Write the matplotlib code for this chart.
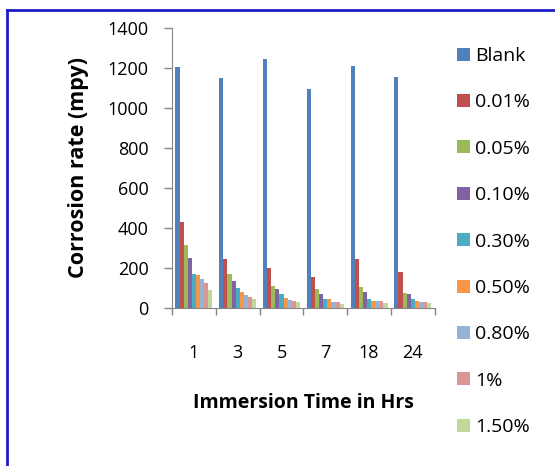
import numpy as np
import matplotlib
matplotlib.use("Agg")
import matplotlib.pyplot as plt
from matplotlib.lines import Line2D

plt.rcParams['font.family'] = ['Open Sans', 'DejaVu Sans']

# immersion times (hrs) and inhibitor concentrations
hours = ['1', '3', '5', '7', '18', '24']
series = ['Blank', '0.01%', '0.05%', '0.10%', '0.30%', '0.50%', '0.80%', '1%', '1.50%']

# corrosion rate (mpy), one list per concentration
blank  = [1205, 1148, 1243, 1095, 1212, 1155]
c0_01  = [428, 245, 202, 157, 245, 178]
c0_05  = [313, 170, 112, 93, 105, 77]
c0_10  = [252, 137, 97, 68, 80, 68]
c0_30  = [170, 98, 68, 43, 43, 43]
c0_50  = [164, 80, 52, 43, 37, 37]
c0_80  = [145, 65, 40, 30, 35, 30]
c1_00  = [123, 55, 35, 30, 33, 30]
c1_50  = [88, 43, 30, 22, 23, 27]

values = [blank, c0_01, c0_05, c0_10, c0_30, c0_50, c0_80, c1_00, c1_50]
colors = ['#4F81BD', '#C0504D', '#9BBB59', '#8064A2', '#4BACC6',
          '#F79646', '#95B3D7', '#D99694', '#C3D69B']

fig = plt.figure(figsize=(5.55, 4.66), dpi=100)
ax = fig.add_axes([172/555, 1-308/466, (434.7-172)/555, (308-28)/466])

n = len(series)
bw = 0.845 / n
x = np.arange(len(hours))
for i in range(n):
    ax.bar(x - 0.845/2 + bw*(i+0.5), values[i], width=bw, color=colors[i],
           label=series[i], linewidth=0)

ax.set_xlim(-0.5, len(hours) - 0.5)
ax.set_ylim(0, 1400)
ax.set_yticks(range(0, 1401, 200))

# category boundaries get the tick marks, labels sit in between
ax.set_xticks(x)
ax.set_xticklabels(hours)
ax.set_xticks(np.arange(-0.5, len(hours)), minor=True)
ax.tick_params(axis='x', which='major', length=0, pad=26, labelsize=13)
ax.tick_params(axis='x', which='minor', length=5, color='#868686', width=1)
ax.tick_params(axis='y', length=6, color='#868686', width=1, pad=11, labelsize=13)

for s in ['top', 'right']:
    ax.spines[s].set_visible(False)
for s in ['left', 'bottom']:
    ax.spines[s].set_color('#868686')

ax.set_ylabel('Corrosion rate (mpy)', fontsize=15.5, fontweight='bold', labelpad=13)
ax.set_xlabel('Immersion Time in Hrs', fontsize=14, fontweight='bold', labelpad=22)

fig.legend(loc='upper left', bbox_to_anchor=(457/555, 1-47/466), frameon=False,
           fontsize=14, labelspacing=1.46, handlelength=0.65, handleheight=0.65,
           handletextpad=0.3, borderpad=0, borderaxespad=0)

# blue frame around the chart area
fig.add_artist(Line2D([7/555, 1], [1-10/466, 1-10/466], color='#1c1cc8', lw=2,
                      transform=fig.transFigure))
fig.add_artist(Line2D([7/555, 7/555], [0, 1-10/466], color='#1c1cc8', lw=2,
                      transform=fig.transFigure))

fig.savefig('out.png', dpi=100)
